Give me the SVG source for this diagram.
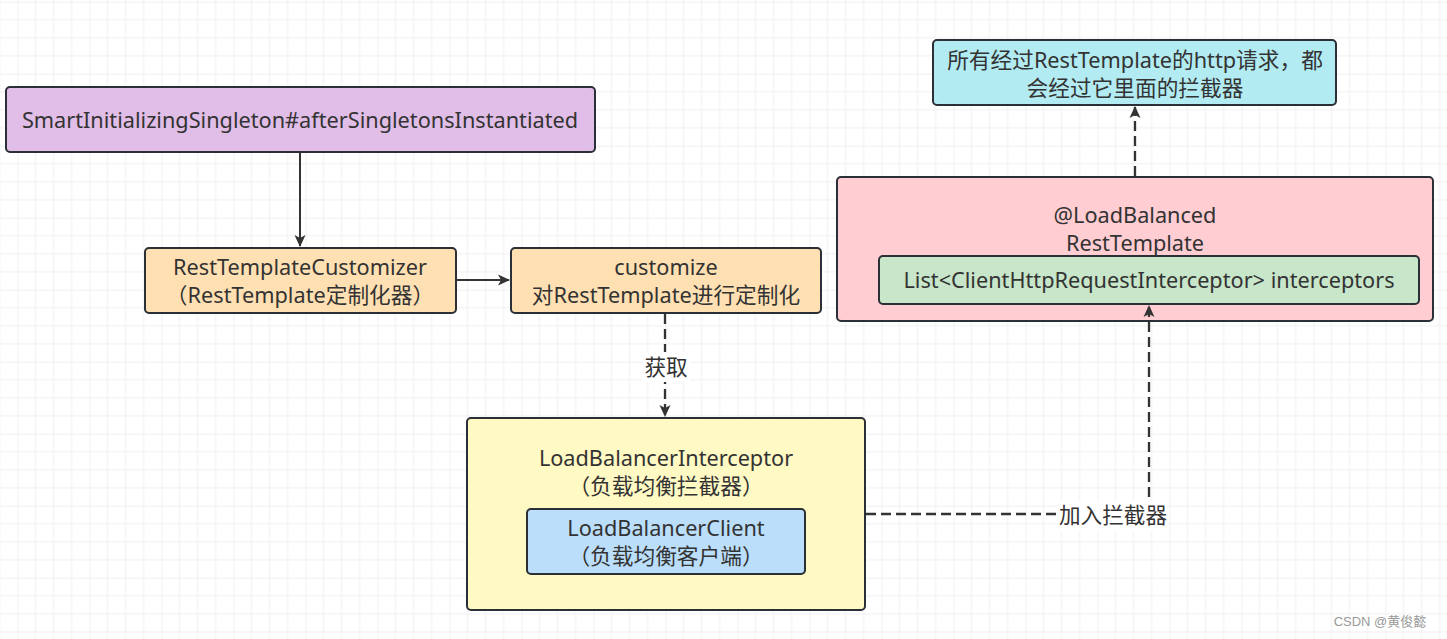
<svg xmlns="http://www.w3.org/2000/svg" width="1447" height="639" viewBox="0 0 1447 639">
<defs>
<pattern id="g" x="17.5" y="1.7" width="72" height="72" patternUnits="userSpaceOnUse">
<path d="M18 0V72M36 0V72M54 0V72M0 18H72M0 36H72M0 54H72" stroke="#efefef" stroke-width="1" fill="none"/>
<path d="M0 0V72M0 0H72" stroke="#e2e2e2" stroke-width="1" fill="none"/>
</pattern>
<marker id="ah" viewBox="0 0 12 12" refX="11" refY="6" markerWidth="12" markerHeight="12" markerUnits="userSpaceOnUse" orient="auto">
<path d="M0 0.5L12 6L0 11.5L3 6Z" fill="#333"/>
</marker>
</defs>
<style>
.n{stroke:#2b2f36;stroke-width:2}
.t{font-family:"Noto Sans","Noto Sans CJK SC",sans-serif;font-size:21.7px;fill:#333;text-anchor:middle}
.c{fill:none;stroke:#333;stroke-width:2}
.d{stroke-dasharray:10 5;stroke-width:2.3}
.lb{font-family:"Noto Sans CJK SC","Noto Sans",sans-serif;font-size:21.6px;fill:#333;text-anchor:middle}
</style>
<rect width="1447" height="639" fill="#ffffff"/>
<rect width="1447" height="639" fill="url(#g)"/>

<g id="smart">
<rect class="n" x="6" y="87" width="589" height="65" rx="4" fill="#e1bee7"/>
<text class="t" x="300" y="127.5">SmartInitializingSingleton#afterSingletonsInstantiated</text>
</g>
<g id="customizer">
<rect class="n" x="145" y="248" width="311" height="65" rx="4" fill="#ffe0b2"/>
<text class="t" x="300" y="275">RestTemplateCustomizer</text>
<text class="t" x="300" y="303">（RestTemplate定制化器）</text>
</g>
<g id="customize">
<rect class="n" x="511" y="248" width="310" height="65" rx="4" fill="#ffe0b2"/>
<text class="t" x="666" y="275">customize</text>
<text class="t" x="666" y="303">对RestTemplate进行定制化</text>
</g>
<g id="interceptor">
<rect class="n" x="467" y="418" width="398" height="192" rx="4" fill="#fff9c4"/>
<text class="t" x="666" y="466">LoadBalancerInterceptor</text>
<text class="t" x="666" y="494">（负载均衡拦截器）</text>
</g>
<g id="client">
<rect class="n" x="527" y="509" width="278" height="65" rx="4" fill="#bbdefb"/>
<text class="t" x="666" y="536">LoadBalancerClient</text>
<text class="t" x="666" y="564">（负载均衡客户端）</text>
</g>
<g id="resttemplate">
<rect class="n" x="837" y="177" width="596" height="144" rx="4" fill="#ffcdd2"/>
<text class="t" x="1135" y="223">@LoadBalanced</text>
<text class="t" x="1135" y="251">RestTemplate</text>
</g>
<g id="interceptors">
<rect class="n" x="879" y="256" width="540" height="48" rx="4" fill="#c8e6c9"/>
<text class="t" x="1149" y="288">List&lt;ClientHttpRequestInterceptor&gt; interceptors</text>
</g>
<g id="note">
<rect class="n" x="933" y="40" width="403" height="65" rx="4" fill="#b2ebf2"/>
<text class="t" x="1135" y="68">所有经过RestTemplate的http请求，都</text>
<text class="t" x="1135" y="96">会经过它里面的拦截器</text>
</g>

<g id="connectors">
<path class="c" d="M300 153V246" marker-end="url(#ah)"/>
<path class="c" d="M457 280H509" marker-end="url(#ah)"/>
<path class="c d" d="M665 314V416" marker-end="url(#ah)"/>
<rect x="642" y="352" width="48" height="30" fill="#ffffff"/>
<text class="lb" x="666" y="375">获取</text>
<path class="c d" d="M866 514H1149V306" marker-end="url(#ah)"/>
<rect x="1058" y="501" width="110" height="30" fill="#ffffff"/>
<text class="lb" x="1113" y="523">加入拦截器</text>
<path class="c d" d="M1135 176V107" marker-end="url(#ah)"/>
</g>

<text x="1380" y="626" font-family="'Liberation Sans','Noto Sans CJK SC',sans-serif" font-size="13" fill="#9a9a9a" text-anchor="middle">CSDN @黄俊懿</text>
</svg>
